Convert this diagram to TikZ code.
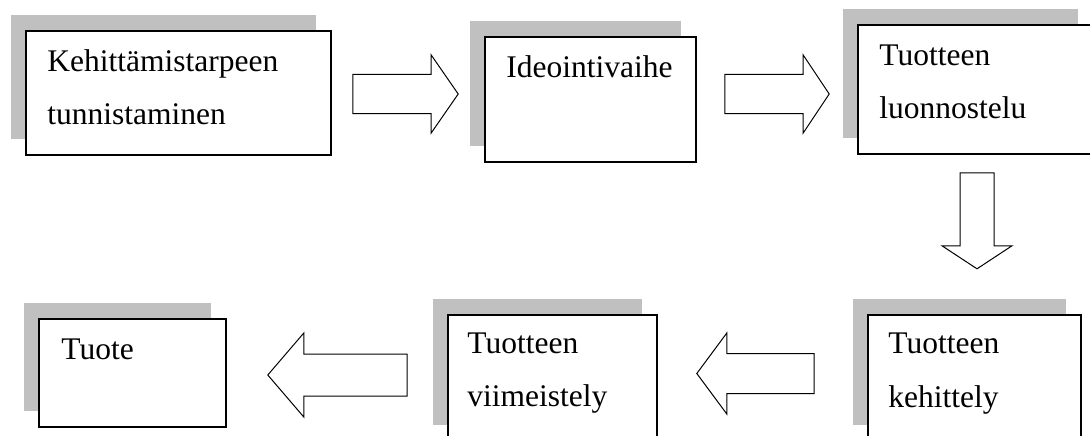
\documentclass[tikz,border=0pt]{standalone}
\usepackage{fontspec}
\setmainfont{Liberation Serif}
\usepackage{xcolor}
\usetikzlibrary{calc,shadows}

\definecolor{varjo}{RGB}{192,192,192}

% block arrow drawn from start to tip: shaft half width, head half width, head length
\tikzset{
  nuoli/.style n args={3}{draw=black, line width=1pt, fill=white, line join=miter,
    to path={
      ($(\tikztostart)!#1!90:(\tikztotarget)$)
      -- ($($(\tikztotarget)!#3!(\tikztostart)$)!#1!90:(\tikztotarget)$)
      -- ($($(\tikztotarget)!#3!(\tikztostart)$)!#2!90:(\tikztotarget)$)
      -- (\tikztotarget)
      -- ($($(\tikztotarget)!#3!(\tikztostart)$)!#2!-90:(\tikztotarget)$)
      -- ($($(\tikztotarget)!#3!(\tikztostart)$)!#1!-90:(\tikztotarget)$)
      -- ($(\tikztostart)!#1!-90:(\tikztotarget)$)
      -- cycle}}
}

\begin{document}
\begin{tikzpicture}[x=1pt,y=-1pt]
            \tikzstyle{every node}+=[inner sep=0pt]
            \tikzstyle{vaihe}=[draw=black, line width=1.6pt, fill=white,
              copy shadow={shadow xshift=-15.5pt, shadow yshift=16pt, fill=varjo, draw=none}]
            \tikzstyle{teksti}=[anchor=base west, align=left, font=\fontsize{31.5}{53.5}\selectfont]
            \useasboundingbox (0,0) rectangle (1090,436);
            \clip (0,0) rectangle (1090,436);
            % upper row
            \node[vaihe, minimum width=305pt, minimum height=124pt] (kehitys) at (178.5,93) {};
            \node[vaihe, minimum width=211pt, minimum height=125pt] (ideointi) at (590.5,99.5) {};
            \node[vaihe, minimum width=235pt, minimum height=129pt] (luonnos) at (975.5,89.5) {};
            % lower row
            \node[vaihe, minimum width=213pt, minimum height=126pt] (kehittely) at (974.5,378) {};
            \node[vaihe, minimum width=209pt, minimum height=126pt] (viimeistely) at (552.5,378) {};
            \node[vaihe, minimum width=187pt, minimum height=108pt] (tuote) at (132.5,373) {};
            % texts (base of a two-line node is its last line)
            \node[teksti] (kehitys-t) at ($(kehitys.north west)+(22,94.5)$) {Kehittämistarpeen\\tunnistaminen};
            \node[teksti] (ideointi-t) at ($(ideointi.north west)+(22,41)$) {Ideointivaihe};
            \node[teksti] (luonnos-t) at ($(luonnos.north west)+(22,94.5)$) {Tuotteen\\luonnostelu};
            \node[teksti] (kehittely-t) at ($(kehittely.north west)+(21,93)$) {Tuotteen\\kehittely};
            \node[teksti] (viimeistely-t) at ($(viimeistely.north west)+(20,92.5)$) {Tuotteen\\viimeistely};
            \node[teksti] (tuote-t) at ($(tuote.north west)+(23,41)$) {Tuote};
            % arrows
            \draw[nuoli={19.5pt}{39pt}{27pt}] ($(kehitys.east)+(21,1)$) to ($(kehitys.east -| ideointi.west)+(-26,1)$);
            \draw[nuoli={19.5pt}{39pt}{26pt}] ($(ideointi.east |- kehitys.east)+(28,1)$) to ($(kehitys.east -| luonnos.west)+(-28,1)$);
            \draw[nuoli={17pt}{35pt}{23pt}] ($(luonnos.south)+(1.5,18)$) to ($(luonnos.south)+(1.5,114)$);
            \draw[nuoli={20pt}{40.5pt}{30pt}] ($(kehittely.west)+(-53,-4.5)$) to ($(viimeistely.east)+(39,-4.5)$);
            \draw[nuoli={21pt}{42pt}{36pt}] ($(viimeistely.west)+(-40,-3)$) to ($(tuote.east)+(41,2)$);
\end{tikzpicture}
\end{document}
